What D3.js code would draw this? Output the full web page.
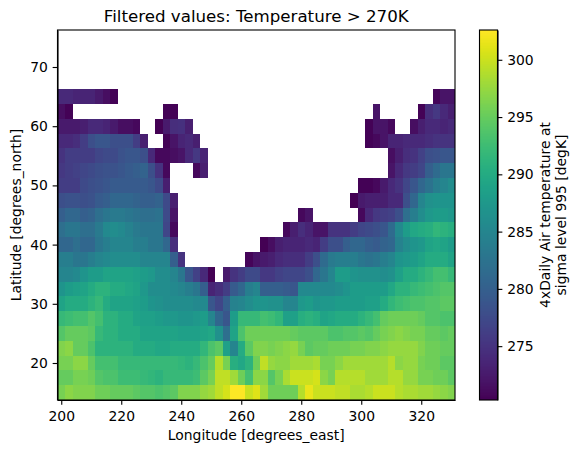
<!DOCTYPE html>
<html><head><meta charset="utf-8">
<script src="https://cdn.jsdelivr.net/npm/d3@7"></script>
<style>html,body{margin:0;padding:0;background:#fff}svg{display:block}text{font-family:"DejaVu Sans";fill:#000}</style>
</head><body><svg id="c" width="579" height="453"></svg>
<script>
const titleText = "Filtered values: Temperature > 270K";
const xLabel = "Longitude [degrees_east]";
const yLabel = "Latitude [degrees_north]";
const cbarLabel = ["4xDaily Air temperature at","sigma level 995 [degK]"];
const xTicks = [200,220,240,260,280,300,320];
const yTicks = [20,30,40,50,60,70];
const cbarTicks = [275,280,285,290,295,300];
const tempMin = 270.3, tempMax = 302.6;
const lonStep = 2.5, latStep = 2.5, lonStart = 200;
// each entry: latitude, first longitude index, values from there eastward
const spans = [
[65,0,[274,274,273.5,273.5,273.5,272.5,271.5,270.5]],
[65,50,[270.7,272,272]],
[62.5,0,[271.5,270.5]],
[62.5,14,[270.5,270.5]],
[62.5,42,[272]],
[62.5,48,[270.5,274.5,275.5,274,273]],
[60,0,[272.5,272.5,272.5,273,274,274,273.5,272.5,271.5,271.5,271]],
[60,13,[270.3,272.5,274.5,274.8,273]],
[60,41,[270.5,272,272,271]],
[60,47,[271.5,273,274,274,273.5,274]],
[57.5,0,[274,274,274.5,276,278,279,279,278,278,278,276,273]],
[57.5,14,[270.5,272,273.5,274,273]],
[57.5,41,[270.5,271,272,273.5,273.5,274,274,274,274.5,275,275,275]],
[55,0,[275,276,276,276,276,277,277.5,277.5,278.5,279,279,278,274,271,271,271.5,272,274,275.5,273.5]],
[55,44,[271.5,273,274.5,275,276.5,278,278.5,279,279]],
[52.5,0,[275.5,276,276.5,277,277.5,278,278.5,278.5,279,279.5,280,280.5,278,275,271]],
[52.5,18,[271,273]],
[52.5,44,[272,274,275.5,276,277,280,281.5,283,283]],
[50,0,[276,276,276,277.5,278,278.5,279,279.5,279.5,279.5,279.5,279.5,279,277.5,273]],
[50,40,[270.5,270.5,271,272.5,274,275,277,279,281,282.5,284,285,286]],
[47.5,0,[278,278.5,278.5,278,278.5,279.5,280,281,281,281,280.5,280,280,280.5,277.5,273]],
[47.5,39,[270.3,272.5,273,273,273,274,274,278,281,285,286.5,287,287,287]],
[45,0,[280,281,281,280,280.5,282,283,283.5,283.5,283,282.5,282,282,282.5,277.5,272]],
[45,32,[271,272]],
[45,40,[271,274,275.5,276,276.5,278,282,284,286,287.5,288,288,287.5]],
[42.5,0,[282,283,283,282,282,283.5,285.5,286,285.5,284.5,283.5,283,283,283,277,271]],
[42.5,30,[271,273,274.5,273.5,272,272,275,275,275,276,277,277.5,278,279,281.5,285.5,288,289.5,290,290.5,291.5,291,290.5]],
[40,0,[281,281,282,281,281,283,284,285,285,285,284,284,283,283,281,274.5]],
[40,27,[270.3,271.5,273,273.5,273.5,273.5,274,273.5,276,278,278,280,281,281,280,279.5,280.5,281,284.5,286,287,287.5,289,289.5,289,288]],
[37.5,0,[284,284,283,283,284,285,285.5,286,286,286,286,285,285,285,285,280,275]],
[37.5,25,[270.7,272,272.5,273,274,274.5,274.5,274.5,276,278,281.5,283.5,284,284,284,283,282.5,283,284,285,287,287.5,288,289,290,290,290,289]],
[35,0,[285,285,285.5,287,288,288,289,289,289,289,288.5,288,287.5,286,286,285,283,279,276.5,274,270.3]],
[35,22,[272.5,275,276,277.5,277.5,275.5,275.5,276.5,277,277,277,278,281,283,285,288,288,287,286.5,286.5,286.5,286,286.5,288.5,290,290,291,292,293,293,292]],
[32.5,0,[287,288,288.5,289,290,291,291,290,290,289.5,289,287.5,286,286,286,285.5,285,284,283,280,273.5,274.5,276,279.5,281,284,285,280,280,280,279.5,279,285.5,285.5,285.5,285.5,285.5,286,287,288,288,288,288,288,289.5,291,291,292,292.5,293,293.5,294,294]],
[30,0,[289,290,290,290,291,292,290,289,289,289,288.5,288,287,286.5,286,286,286,286,285.5,285.5,279,277,280,284.5,285,286,287,287,286.5,286.5,285,285,287.5,288,287,287.5,287.5,288,288,288,288,288.5,288.5,290,291.5,292.5,293,293.5,293.5,294,294,294.5,294.5]],
[27.5,0,[292,292.5,293,293,294,293,291,291,290,290,289,288.5,288.5,288,287.5,287.5,287,287,287.5,288,285,281,279,288,292,292,292,293,292.5,291.5,288.5,288.5,290.5,291,290.5,289,289.5,290,290,290,291,292,293,295,295.5,295.5,295.5,295.5,295,294,294,293.5,293.5]],
[25,0,[294,295,295,295,294.5,292,291,291,290,290,290,289,289,289,289,289,288.5,288.5,288.5,289,289.5,286.5,282,289,293.5,295.5,295.5,295.5,295.5,295.5,295.5,295,294.5,294.5,294.5,294.5,293.5,293.5,294,294,294.5,294,295,296,296.5,297,296.5,296,296,295,295,294.5,295]],
[22.5,0,[296.5,297,295,295,293.5,291,291,291,291,291,290,290,290,289.5,289.5,290,290,290,290,291.5,293.5,294.5,288.5,285,290,294.5,296.5,296.5,296,296.5,297,297.5,296,294.5,295,295,295.5,295.5,295.5,296,296,296.5,296.5,297,297.5,297.5,297.5,297.5,296.5,295.5,295.5,295,295]],
[20,0,[296,296,297,297,295,293,293,293,292,292,292,292,292,292,292,292,291.5,291,292,293.5,295,299,296,290.5,289.5,291,295.5,299.5,297.5,297,297,298,298,298,298.5,296,296,297,298,298,298,298,298,298,299,297,297.5,297.5,296,295.5,295.5,294.5,294.5]],
[17.5,0,[295,295,296,296,295.5,294,293.5,293.5,292.5,292.5,292.5,292,291.5,291,292,292,292,292,292.5,294.5,296,299.5,299.5,298,295.5,293,297,297,294,296,298.5,300,300,300,300.5,297,296,299,299,299,299,298,298,298,299,299,297.5,297.5,296,296,295.5,295.5,294.5]],
[15,0,[296,297,296.5,296.5,296.5,295.5,295.5,295,295,295,294.5,294,294,293.5,294,294.5,296.5,296.5,296.5,297.5,298,299.5,300.5,302.5,302.5,300,301,298,295.5,295.5,295.5,295.5,299,301.5,300,300,300,299.5,299.5,298.5,298.5,299,300,300,300,299,298.5,298.5,298,298,297.5,297,296.5]]
];
const M = {l:57.5,r:455,t:30,b:400};
const svg = d3.select("#c");
const x = d3.scaleLinear().domain([198.75,331.25]).range([M.l,M.r]);
const y = d3.scaleLinear().domain([13.75,76.25]).range([M.b,M.t]);
const color = d3.scaleSequential(d3.interpolateViridis).domain([tempMin,tempMax]);
const cells = spans.flatMap(([lat,start,vals]) => vals.map((v,i)=>({lat,lon:lonStart+(start+i)*lonStep,v})));
svg.append("g").attr("shape-rendering","crispEdges").selectAll("rect").data(cells).join("rect")
  .attr("x",d=>x(d.lon-lonStep/2)).attr("width",d=>x(d.lon+lonStep/2)-x(d.lon-lonStep/2))
  .attr("y",d=>y(d.lat+latStep/2)).attr("height",d=>y(d.lat-latStep/2)-y(d.lat+latStep/2))
  .attr("fill",d=>color(d.v));
const fs=13.9;
function style(g){
  g.selectAll(".domain").attr("stroke","#000").attr("stroke-width",1.11);
  g.selectAll(".tick line").attr("stroke","#000").attr("stroke-width",1.11);
  g.selectAll(".tick text").attr("font-family","DejaVu Sans").attr("font-size",fs).attr("fill","#000");
}
const ax = d3.axisBottom(x).tickValues(xTicks).tickSize(4.86).tickPadding(5.8).tickSizeOuter(0);
const ay = d3.axisLeft(y).tickValues(yTicks).tickSize(4.86).tickPadding(4.8).tickSizeOuter(0);
svg.append("g").attr("transform",`translate(0,${M.b})`).call(ax).call(style);
svg.append("g").attr("transform",`translate(${M.l},0)`).call(ay).call(style);
svg.append("rect").attr("x",M.l).attr("y",M.t).attr("width",M.r-M.l).attr("height",M.b-M.t)
  .attr("fill","none").attr("stroke","#000").attr("stroke-width",1.11);
svg.append("text").attr("x",(M.l+M.r)/2).attr("y",21.7).attr("text-anchor","middle").attr("font-size",16.67).text(titleText);
svg.append("text").attr("x",(M.l+M.r)/2).attr("y",440).attr("text-anchor","middle").attr("font-size",fs).text(xLabel);
svg.append("text").attr("transform",`translate(21,${(M.t+M.b)/2}) rotate(-90)`).attr("text-anchor","middle").attr("font-size",fs).text(yLabel);
// colour bar
const C = {l:479.5,r:497.5};
const cy = d3.scaleLinear().domain([tempMin,tempMax]).range([M.b,M.t]);
const levels = d3.range(256).map(i=>tempMin+(tempMax-tempMin)*i/256);
const dv=(tempMax-tempMin)/256;
svg.append("g").attr("shape-rendering","crispEdges").selectAll("rect").data(levels).join("rect")
  .attr("x",C.l).attr("width",C.r-C.l).attr("y",d=>cy(d+dv)-0.3).attr("height",d=>cy(d)-cy(d+dv)+0.6)
  .attr("fill",d=>color(d+dv/2));
const ac = d3.axisRight(cy).tickValues(cbarTicks).tickSize(4.86).tickPadding(4.8).tickSizeOuter(0);
svg.append("g").attr("transform",`translate(${C.r},0)`).call(ac).call(style);
svg.append("rect").attr("x",C.l).attr("y",M.t).attr("width",C.r-C.l).attr("height",M.b-M.t)
  .attr("fill","none").attr("stroke","#000").attr("stroke-width",1.11);
cbarLabel.forEach((t,i)=>svg.append("text").attr("transform",`translate(${549.5+i*16.2},215) rotate(-90)`)
  .attr("text-anchor","middle").attr("font-size",fs).text(t));
</script></body></html>
